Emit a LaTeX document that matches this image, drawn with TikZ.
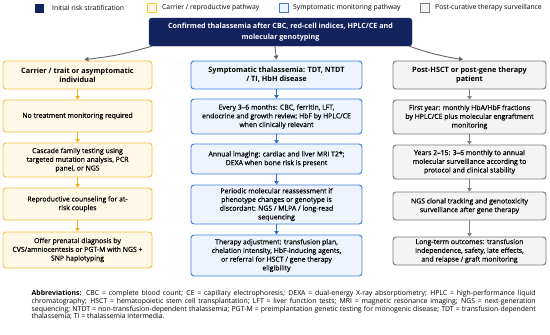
\documentclass[tikz,border=0pt]{standalone}
\usepackage{fontspec}
\setmainfont{Open Sans}
\newfontfamily\semib{Open Sans}[FakeBold=0.4]
\usetikzlibrary{arrows.meta,backgrounds}
\definecolor{navy}{HTML}{13235E}
\definecolor{ybord}{HTML}{F5C242}
\definecolor{yfill}{HTML}{FFF8E6}
\definecolor{yarrow}{HTML}{F2B320}
\definecolor{bbord}{HTML}{3B7DDD}
\definecolor{bfill}{HTML}{EEF4FE}
\definecolor{barrow}{HTML}{2F6FDB}
\definecolor{gbord}{HTML}{7A7A7A}
\definecolor{gfill}{HTML}{F4F4F4}
\definecolor{garrow}{HTML}{7F7F7F}
\definecolor{toparrow}{HTML}{666666}
\tikzset{
  box/.style={draw, rounded corners=3pt, line width=0.9pt, align=center, inner sep=1pt,
    font=\fontsize{6.9}{8.7}\selectfont\semib},
  hdr/.style={font=\fontsize{7.3}{8.9}\selectfont\bfseries},
  ybox/.style={box, draw=ybord, fill=yfill, minimum width=149pt},
  bbox/.style={box, draw=bbord, fill=bfill, minimum width=171pt},
  gbox/.style={box, draw=gbord, fill=gfill, minimum width=153pt},
  colarrow/.style={line width=0.9pt, -{Triangle[width=4.5pt,length=3.5pt]}},
  yarr/.style={colarrow, draw=yarrow, fill=yarrow},
  barr/.style={colarrow, draw=barrow, fill=barrow},
  garr/.style={colarrow, draw=garrow, fill=garrow},
  toparr/.style={line width=0.9pt, draw=toparrow, -{Triangle[width=4.5pt,length=4pt]}},
  legsq/.style={minimum size=9pt, inner sep=0pt, line width=0.8pt},
  legtxt/.style={anchor=west, inner sep=0pt, font=\fontsize{6.8}{8}\selectfont}
}
\begin{document}
\begin{tikzpicture}[x=1pt,y=-1pt]
\useasboundingbox[fill=white] (0,0) rectangle (550,335);
% legend
\node[legsq, fill=navy] (lg1) at (39.5,8) {};
\node[legtxt] (lt1) at (52,8) {Initial risk stratification};
\node[legsq, draw=ybord, fill=yfill] (lg2) at (151.5,8) {};
\node[legtxt] (lt2) at (162,8) {Carrier / reproductive pathway};
\node[legsq, draw=bbord, fill=bfill] (lg3) at (284,8) {};
\node[legtxt] (lt3) at (293,8) {Symptomatic monitoring pathway};
\node[legsq, draw=gbord, fill=gfill] (lg4) at (424.5,8) {};
\node[legtxt] (lt4) at (435,8) {Post-curative therapy surveillance};
% top box
\node[draw=navy, fill=navy, rounded corners=3pt, text=white, align=center,
  minimum width=263pt, minimum height=28pt, inner sep=1pt,
  font=\fontsize{7.15}{10.5}\selectfont\bfseries] (top) at (280.5,32)
  {Confirmed thalassemia after CBC, red-cell indices, HPLC/CE and\\molecular genotyping};
% left column
\node[ybox, hdr, minimum height=28pt] (L1) at (77.5,75) {Carrier / trait or asymptomatic\\individual};
\node[ybox, minimum height=32pt] (L2) at (77.5,116) {No treatment monitoring required};
\node[ybox, minimum height=34pt] (L3) at (77.5,160) {Cascade family testing using\\targeted mutation analysis, PCR\\panel, or NGS};
\node[ybox, minimum height=32pt] (L4) at (77.5,204) {Reproductive counseling for at-\\risk couples};
\node[ybox, minimum height=36pt] (L5) at (77.5,250) {Offer prenatal diagnosis by\\CVS/amniocentesis or PGT-M with NGS +\\SNP haplotyping};
% middle column
\node[bbox, hdr, minimum height=28pt] (M1) at (276.5,75) {Symptomatic thalassemia: TDT, NTDT\\/ TI, HbH disease};
\node[bbox, minimum height=35pt] (M2) at (276.5,116.5) {Every 3–6 months: CBC, ferritin, LFT,\\endocrine and growth review; HbF by HPLC/CE\\when clinically relevant};
\node[bbox, minimum height=30pt] (M3) at (276.5,159) {Annual imaging: cardiac and liver MRI T2*;\\DEXA when bone risk is present};
\node[bbox, minimum height=39pt] (M4) at (276.5,204.5) {Periodic molecular reassessment if\\phenotype changes or genotype is\\discordant: NGS / MLPA / long-read\\sequencing};
\node[bbox, minimum height=41pt] (M5) at (276.5,255.5) {Therapy adjustment: transfusion plan,\\chelation intensity, HbF-inducing agents,\\or referral for HSCT / gene therapy\\eligibility};
% right column
\node[gbox, hdr, minimum height=28pt] (R1) at (469.5,75) {Post-HSCT or post-gene therapy\\patient};
\node[gbox, minimum height=34pt] (R2) at (469.5,117) {First year: monthly HbA/HbF fractions\\by HPLC/CE plus molecular engraftment\\monitoring};
\node[gbox, minimum height=34pt] (R3) at (469.5,162) {Years 2–15: 3–6 monthly to annual\\molecular surveillance according to\\protocol and clinical stability};
\node[gbox, minimum height=28pt] (R4) at (469.5,206) {NGS clonal tracking and genotoxicity\\surveillance after gene therapy};
\node[gbox, minimum height=28pt] (R5) at (469.5,251) {Long-term outcomes: transfusion\\independence, safety, late effects,\\and relapse / graft monitoring};
% column arrows
\draw[yarr] (L1) -- (L2);
\draw[yarr] (L2) -- (L3);
\draw[yarr] (L3) -- (L4);
\draw[yarr] (L4) -- (L5);
\draw[barr] (M1) -- (M2);
\draw[barr] (M2) -- (M3);
\draw[barr] (M3) -- (M4);
\draw[barr] (M4) -- (M5);
\draw[garr] (R1) -- (R2);
\draw[garr] (R2) -- (R3);
\draw[garr] (R3) -- (R4);
\draw[garr] (R4) -- (R5);
% top arrows
\draw[toparr] ([xshift=3pt]top.south west) to[bend left=5] ([xshift=7pt,yshift=1pt]L1.north);
\draw[toparr] ([xshift=-5.5pt]top.south) -- ([yshift=1pt]M1.north);
\draw[toparr] ([xshift=-3pt]top.south east) to[bend right=5] ([xshift=-6.5pt,yshift=1pt]R1.north);
% abbreviations
\node[anchor=north west, inner sep=0pt, text width=504pt, align=justify,
  font=\fontsize{6.9}{7.6}\selectfont] (abbr) at (31.5,290.5)
  {\textbf{Abbreviations:} CBC = complete blood count; CE = capillary electrophoresis; DEXA = dual-energy X-ray absorptiometry; HPLC = high-performance liquid\linebreak
  chromatography; HSCT = hematopoietic stem cell transplantation; LFT = liver function tests; MRI = magnetic resonance imaging; NGS = next-generation\linebreak
  sequencing; NTDT = non-transfusion-dependent thalassemia; PGT-M = preimplantation genetic testing for monogenic disease; TDT = transfusion-dependent\linebreak
  thalassemia; TI = thalassemia intermedia.};
\end{tikzpicture}
\end{document}
